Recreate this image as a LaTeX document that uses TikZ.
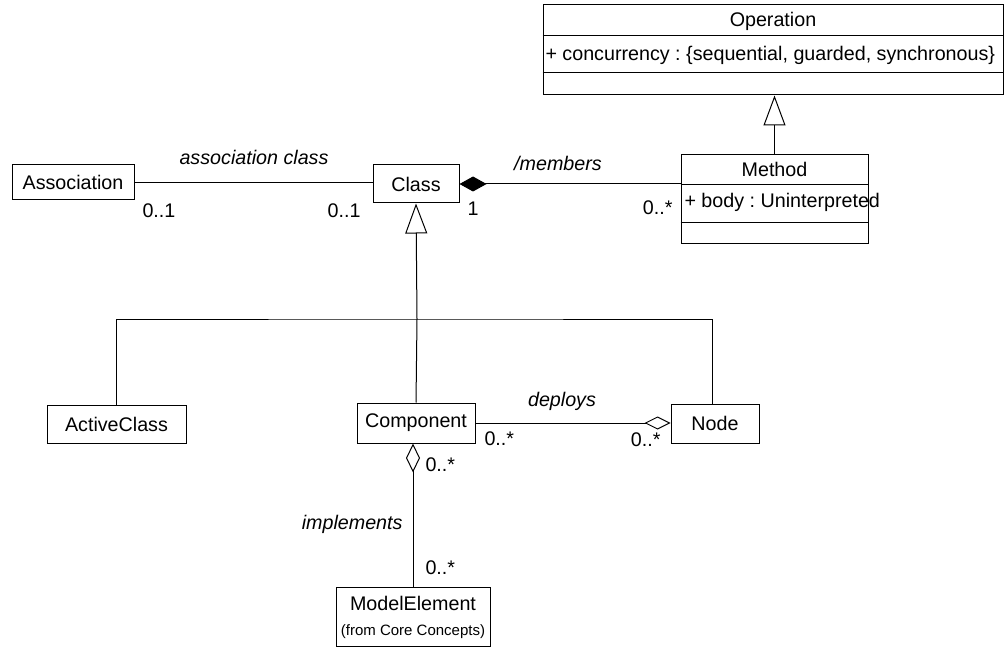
\documentclass[tikz,border=0pt]{standalone}
\usepackage{fontspec}
\setmainfont{Liberation Sans}
\usetikzlibrary{arrows.meta}
\frenchspacing
\begin{document}
\begin{tikzpicture}[x=1pt,y=-1pt,
  line width=1pt,
  every node/.style={font=\fontsize{19.7}{22}\selectfont},
  umlbox/.style={draw,rectangle,inner sep=0pt},
  lbl/.style={inner sep=0pt,yshift=-3pt},
  role/.style={inner sep=0pt,yshift=-3pt,font=\fontsize{19.7}{22}\selectfont\itshape},
  gen/.style={-{Triangle[open,length=30pt,width=22pt]}},
  compo/.style={{Diamond[length=27pt,width=15pt]}-},
  aggr/.style={-{Diamond[open,length=26pt,width=13pt]}},
  aggrstart/.style={{Diamond[open,length=29pt,width=14pt]}-}]
\useasboundingbox (0,0) rectangle (1004,647);

% classes
\node[umlbox,minimum width=122pt,minimum height=35pt] (assoc) at (73,182.5) {Association};
\node[umlbox,minimum width=86pt,minimum height=38pt] (class) at (416,184) {Class};
\node[umlbox,minimum width=460pt,minimum height=90pt] (operation) at (773,50) {};
\node[umlbox,minimum width=187pt,minimum height=89pt] (method) at (774.5,199.5) {};
\node[umlbox,minimum width=139pt,minimum height=38pt] (activeclass) at (116.5,424) {ActiveClass};
\node[umlbox,minimum width=118pt,minimum height=40pt] (component) at (416,423) {Component};
\node[umlbox,minimum width=88pt,minimum height=39pt] (nodebox) at (715,423.5) {Node};
\node[umlbox,minimum width=154pt,minimum height=59pt] (modelelement) at (413,616.5) {};

% compartments of Operation
\node[lbl,anchor=mid] (opname) at (773,21) {Operation};
\draw (operation.west |- 0,36) -- (operation.east |- 0,36);
\node[lbl,anchor=mid west] (opattr) at (545,55) {+ concurrency : \{sequential, guarded, synchronous\}};
\draw (operation.west |- 0,73) -- (operation.east |- 0,73);

% compartments of Method
\node[lbl,anchor=mid] (mname) at (774.5,171) {Method};
\draw (method.west |- 0,185) -- (method.east |- 0,185);
\node[lbl,anchor=mid west] (mattr) at (684,202) {+ body : Uninterpreted};
\draw (method.west |- 0,223) -- (method.east |- 0,223);

% ModelElement text
\node[lbl,anchor=mid] (mename) at (413,605) {ModelElement};
\node[lbl,anchor=mid,font=\fontsize{15}{17}\selectfont] (mefrom) at (413,630) {(from Core Concepts)};

% generalizations
\draw[gen] (method.north) -- (method.north |- operation.south);
\coordinate (join) at (417,319);
\draw[gen] (join) -- (class.south);
\draw (activeclass.north) |- (join) -| ([xshift=-3pt]nodebox.north);
\draw (component.north) -- (join);

% association class
\draw (assoc.east) -- (assoc.east -| class.west);
\node[role,anchor=mid] (acl) at (254,159) {association class};
\node[lbl,anchor=mid west] (am1) at (142,212) {0..1};
\node[lbl,anchor=mid east] (am2) at (361,212) {0..1};

% members
\draw[compo] (class.east) -- (class.east -| method.west);
\node[role,anchor=mid] (mem) at (558,165) {/members};
\node[lbl,anchor=mid] (mm1) at (473,210) {1};
\node[lbl,anchor=mid east] (mm2) at (673,209) {0..*};

% deploys
\draw[aggr] (component.east) -- (component.east -| nodebox.west);
\node[role,anchor=mid] (dep) at (562,401) {deploys};
\node[lbl,anchor=mid west] (dm1) at (484,440) {0..*};
\node[lbl,anchor=mid east] (dm2) at (661,441) {0..*};

% implements
\draw[aggrstart] (modelelement.north |- component.south) -- (modelelement.north);
\node[lbl,anchor=mid west] (im1) at (425,466) {0..*};
\node[role,anchor=mid east] (imp) at (403,524) {implements};
\node[lbl,anchor=mid west] (im2) at (425,569) {0..*};
\end{tikzpicture}
\end{document}
